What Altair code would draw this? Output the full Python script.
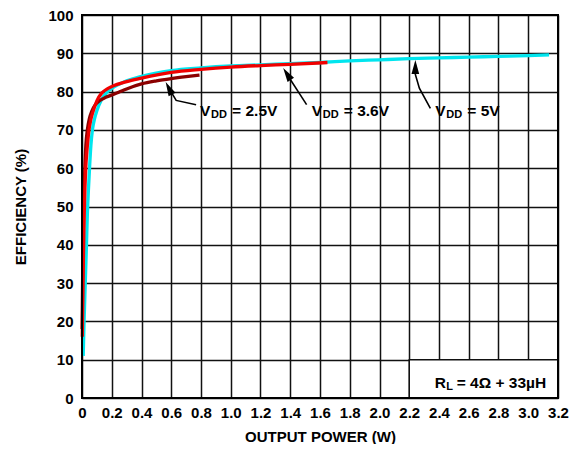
import altair as alt
import pandas as pd

# ---- data ----
x_ticks = [0, 0.2, 0.4, 0.6, 0.8, 1.0, 1.2, 1.4, 1.6, 1.8, 2.0, 2.2, 2.4, 2.6, 2.8, 3.0, 3.2]
y_ticks = [0, 10, 20, 30, 40, 50, 60, 70, 80, 90, 100]

p_25 = [0.001, 0.004, 0.008, 0.013, 0.019, 0.026, 0.036, 0.05, 0.067, 0.09, 0.12, 0.16, 0.2, 0.25,
        0.3, 0.4, 0.5, 0.6, 0.7, 0.79]
e_25 = [18, 30, 42, 52, 60, 66, 70, 73, 75, 76.6, 77.7, 78.5, 79.1, 79.9,
        80.7, 82.0, 82.8, 83.4, 83.9, 84.3]

p_36 = [0.002, 0.006, 0.01, 0.015, 0.02, 0.025, 0.032, 0.04, 0.047, 0.06, 0.076, 0.1, 0.132, 0.17,
        0.2, 0.3, 0.4, 0.6, 0.8, 1.0, 1.2, 1.4, 1.65]
e_36 = [16, 28, 38, 48, 55, 60, 64, 67.5, 70, 72.8, 75, 77.6, 79.6, 80.7,
        81.3, 82.6, 83.5, 85.0, 85.8, 86.4, 86.8, 87.1, 87.6]

p_5 = [0.008, 0.014, 0.022, 0.03, 0.036, 0.044, 0.052, 0.06, 0.07, 0.085, 0.1, 0.13, 0.162, 0.2,
       0.3, 0.4, 0.6, 0.8, 1.0, 1.2, 1.4, 1.6, 1.8, 2.0, 2.2, 2.4, 2.6, 2.8, 3.0, 3.14]
e_5 = [11, 20, 30, 40, 48, 55, 61, 66, 70, 73, 75, 77.8, 79.6, 80.8,
       82.8, 84.0, 85.5, 86.2, 86.7, 87.0, 87.3, 87.6, 88.0, 88.3, 88.6, 88.8, 89.0, 89.2, 89.4, 89.6]

# annotation arrows (tip first)
arrow_id = ["a25", "a25", "a25", "a36", "a36", "a5", "a5", "a5", "a5"]
arrow_p = [0.575, 0.633, 0.767, 1.37, 1.51, 2.241, 2.241, 2.268, 2.342]
arrow_e = [81.5, 77.7, 76.55, 85.0, 76.6, 87.0, 84.5, 80.9, 75.6]
# arrow-head centres and directions
head_p = [0.584, 1.378, 2.241]
head_e = [80.9, 84.6, 86.4]
head_angle = [333, 327, 0]

# labels
lab_p = [0.794, 1.545, 2.375]
lab_e = [74.9, 74.9, 74.9]
lab_main = ["V", "V", "V"]
lab_sub = ["DD", "DD", "DD"]
lab_rest = ["= 2.5V", "= 3.6V", "= 5V"]

rl_p = [2.371]
rl_e = [4.0]
rl_main = ["R"]
rl_sub = ["L"]
rl_rest = ["= 4\u03a9 + 33\u00b5H"]

box_x = [2.2, 3.2]
box_y = [0, 10]

FONT = "Liberation Sans"

xscale = alt.Scale(domain=[x_ticks[0], x_ticks[-1]], nice=False, zero=False)
yscale = alt.Scale(domain=[y_ticks[0], y_ticks[-1]], nice=False, zero=False)

xaxis = alt.Axis(values=x_ticks, labelExpr="datum.value == 0 ? '0' : format(datum.value, '.1f')",
                 title="OUTPUT POWER (W)", grid=True, gridColor="#111111", gridWidth=1.5,
                 domain=False, ticks=False, tickSize=0, labelFont=FONT, labelFontSize=15,
                 labelFontWeight="bold", labelColor="black", labelPadding=7, labelFlush=False,
                 labelOverlap=False, titleFont=FONT, titleFontSize=15, titleFontWeight="bold",
                 titleColor="black", titlePadding=9)
yaxis = alt.Axis(values=y_ticks, title="EFFICIENCY (%)", grid=True, gridColor="#111111", gridWidth=1.5,
                 domain=False, ticks=False, tickSize=0, labelFont=FONT, labelFontSize=15,
                 labelFontWeight="bold", labelColor="black", labelPadding=9, labelFlush=False,
                 labelOverlap=False, titleFont=FONT, titleFontSize=15, titleFontWeight="bold",
                 titleColor="black", titlePadding=19)


def X(f):
    return alt.X(f, type="quantitative", scale=xscale, axis=xaxis)


def Y(f):
    return alt.Y(f, type="quantitative", scale=yscale, axis=yaxis)


def series(p, e, color):
    df = pd.DataFrame({"p": p, "e": e})
    return alt.Chart(df).mark_line(color=color, strokeWidth=3.3, interpolate="monotone").encode(
        x=X("p"), y=Y("e"), order="p:Q")


c5 = series(p_5, e_5, "#00E5EE")
c25 = series(p_25, e_25, "#8B0000")
c36 = series(p_36, e_36, "#F00000")

box_df = pd.DataFrame({"x0": [box_x[0]], "x1": [box_x[1]], "y0": [box_y[0]], "y1": [box_y[1]]})
box = alt.Chart(box_df).mark_rect(fill="white", stroke="#111111", strokeWidth=1.5).encode(
    x=X("x0"), x2="x1", y=Y("y0"), y2="y1")

frame_df = pd.DataFrame({"x0": [x_ticks[0]], "x1": [x_ticks[-1]], "y0": [y_ticks[0]], "y1": [y_ticks[-1]]})
frame = alt.Chart(frame_df).mark_rect(fill="transparent", stroke="black", strokeWidth=2).encode(
    x=X("x0"), x2="x1", y=Y("y0"), y2="y1")

arr_df = pd.DataFrame({"id": arrow_id, "p": arrow_p, "e": arrow_e, "i": list(range(len(arrow_p)))})
arrows = alt.Chart(arr_df).mark_line(color="black", strokeWidth=1.6).encode(
    x=X("p"), y=Y("e"), detail="id:N", order="i:Q")

head_df = pd.DataFrame({"p": head_p, "e": head_e, "a": head_angle})
heads = alt.Chart(head_df).mark_point(
    shape="M0,-1 L0.55,1 L-0.55,1 Z", filled=True, color="black",
    opacity=1, size=196).encode(
    x=X("p"), y=Y("e"), angle=alt.Angle("a:Q", scale=None))

lab_df = pd.DataFrame({"p": lab_p, "e": lab_e, "m": lab_main, "s": lab_sub, "r": lab_rest})
rl_df = pd.DataFrame({"p": rl_p, "e": rl_e, "m": rl_main, "s": rl_sub, "r": rl_rest})


def label_layers(df, sub_dx, rest_dx):
    base = alt.Chart(df)
    m = base.mark_text(align="left", baseline="middle", font=FONT, fontSize=15.5, fontWeight="bold",
                       color="black").encode(x=X("p"), y=Y("e"), text="m:N")
    s = base.mark_text(align="left", baseline="middle", font=FONT, fontSize=11, fontWeight="bold",
                       color="black", dx=sub_dx, dy=4).encode(x=X("p"), y=Y("e"), text="s:N")
    r = base.mark_text(align="left", baseline="middle", font=FONT, fontSize=15.5, fontWeight="bold",
                       color="black", dx=rest_dx).encode(x=X("p"), y=Y("e"), text="r:N")
    return [m, s, r]


labels = label_layers(lab_df, 11, 32)
rl_labels = label_layers(rl_df, 11.5, 22)

chart = alt.layer(c5, c25, c36, box, arrows, heads, *labels, *rl_labels, frame).properties(
    width=476, height=383,
    padding={"left": 74, "top": 7, "right": 14, "bottom": 46},
    autosize=alt.AutoSizeParams(type="none"),
    background="white",
).configure_view(stroke=None)

chart.save("out.html", embed_options={"renderer": "svg", "actions": False})
